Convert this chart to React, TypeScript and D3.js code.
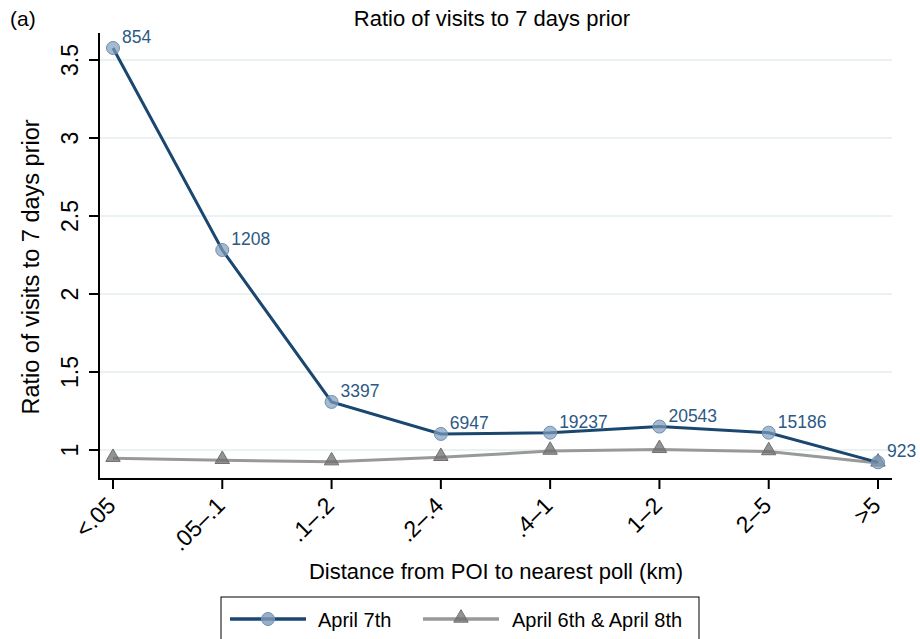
import React from "react";
import * as d3 from "d3";

const categories = ["<.05", ".05–.1", ".1–.2", ".2–.4", ".4–1", "1–2", "2–5", ">5"];
const april7 = [3.577, 2.282, 1.308, 1.103, 1.111, 1.15, 1.111, 0.921];
const april6and8 = [0.947, 0.934, 0.925, 0.953, 0.993, 1.004, 0.99, 0.917];
const counts = ["854", "1208", "3397", "6947", "19237", "20543", "15186", "923"];
const yTicks = [1, 1.5, 2, 2.5, 3, 3.5];

const W = 920, H = 639;
const FONT = "'Liberation Sans', Arial, Helvetica, sans-serif";

export default function App() {
  const x = d3.scalePoint<string>().domain(categories).range([113, 878]);
  const y = d3.scaleLinear().domain([1, 3.5]).range([450, 60]);
  const axisLeft = 99, axisBottom = 479, plotRight = 892, plotTop = 33;

  const line = d3.line<number>().x((_, i) => x(categories[i])!).y((d) => y(d));
  const blue = "#1a476f";
  const gray = "#999999";
  const tri = d3.symbol().type(d3.symbolTriangle).size(90)();

  return (
    <svg width={W} height={H} style={{ position: "absolute", left: 0, top: 0 }} fontFamily={FONT}>
      <rect width={W} height={H} fill="#fff" />
      <text x={10} y={26} fontSize={21}>(a)</text>
      <text x={492} y={26} fontSize={22} textAnchor="middle">Ratio of visits to 7 days prior</text>
      {yTicks.map((t) => (
        <line key={"g" + t} x1={axisLeft} x2={plotRight} y1={y(t)} y2={y(t)} stroke="#eaf2f3" strokeWidth={2} />
      ))}
      {/* axes */}
      <line x1={axisLeft} x2={axisLeft} y1={plotTop} y2={axisBottom + 1} stroke="#000" strokeWidth={2} />
      <line x1={axisLeft - 1} x2={plotRight} y1={axisBottom} y2={axisBottom} stroke="#000" strokeWidth={2} />
      {yTicks.map((t) => (
        <g key={"y" + t}>
          <line x1={axisLeft - 10} x2={axisLeft} y1={y(t)} y2={y(t)} stroke="#000" strokeWidth={2} />
          <text transform={`translate(78,${y(t)}) rotate(-90)`} fontSize={23} textAnchor="middle">{t}</text>
        </g>
      ))}
      {categories.map((c) => (
        <g key={"x" + c}>
          <line x1={x(c)} x2={x(c)} y1={axisBottom} y2={axisBottom + 10} stroke="#000" strokeWidth={2} />
          <text transform={`translate(${x(c)! + 4},${axisBottom + 28}) rotate(-45)`} fontSize={23} textAnchor="end">{c}</text>
        </g>
      ))}
      <text transform={`translate(39,267) rotate(-90)`} fontSize={23.5} textAnchor="middle">Ratio of visits to 7 days prior</text>
      <text x={496} y={579} fontSize={22} textAnchor="middle">Distance from POI to nearest poll (km)</text>

      {/* gray series */}
      <path d={line(april6and8)!} fill="none" stroke={gray} strokeWidth={3} />
      {april6and8.map((v, i) => (
        <path key={"t" + i} d={tri} transform={`translate(${x(categories[i])},${y(v) - 1})`} fill="#6f6f6f" fillOpacity={0.75} stroke="#6f6f6f" strokeWidth={1} />
      ))}
      {/* blue series */}
      <path d={line(april7)!} fill="none" stroke={blue} strokeWidth={3} />
      {april7.map((v, i) => (
        <circle key={"c" + i} cx={x(categories[i])} cy={y(v)} r={6.5} fill="#7f9bba" fillOpacity={0.7} stroke="#6f8fb4" strokeWidth={1} />
      ))}
      {april7.map((v, i) => (
        <text key={"l" + i} x={x(categories[i])! + 9} y={y(v) - 5} fontSize={17.5} fill="#2c5985">{counts[i]}</text>
      ))}

      {/* legend */}
      <rect x={221} y={597} width={478} height={50} fill="#fff" stroke="#000" strokeWidth={1} />
      <line x1={230} x2={306} y1={619} y2={619} stroke={blue} strokeWidth={3.5} />
      <circle cx={268} cy={619} r={6.5} fill="#7f9bba" fillOpacity={0.8} stroke="#6f8fb4" strokeWidth={1} />
      <text x={318} y={627} fontSize={20}>April 7th</text>
      <line x1={423} x2={499} y1={619} y2={619} stroke={gray} strokeWidth={3.5} />
      <path d={tri} transform={`translate(461,618)`} fill="#6f6f6f" fillOpacity={0.75} stroke="#6f6f6f" strokeWidth={1} />
      <text x={512} y={627} fontSize={20}>April 6th &amp; April 8th</text>
    </svg>
  );
}
